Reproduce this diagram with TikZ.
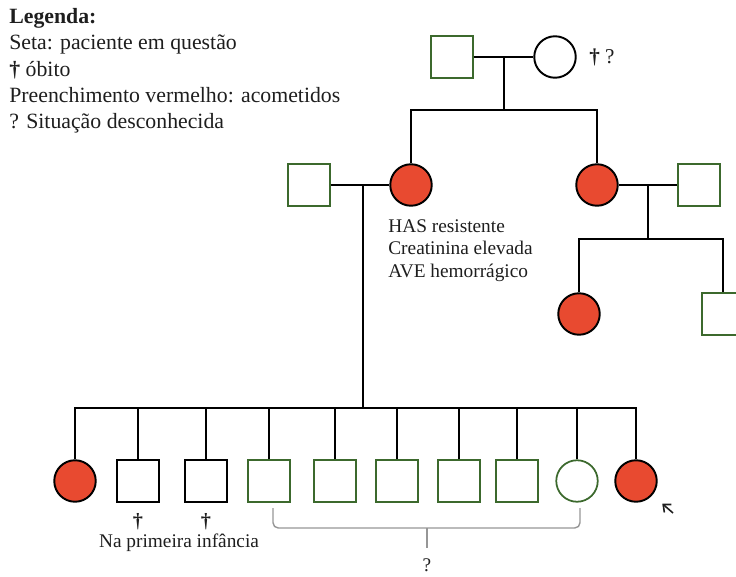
\documentclass[tikz,border=0pt]{standalone}
\usepackage{fontspec}
\setmainfont{Liberation Serif}
\usepackage{tikz}
\usetikzlibrary{arrows.meta,positioning}
\definecolor{pedgreen}{RGB}{60,105,45}
\definecolor{pedred}{RGB}{232,74,48}
\definecolor{pedgrey}{RGB}{150,150,150}
\definecolor{pedtext}{RGB}{30,30,30}

\begin{document}
\begin{tikzpicture}[x=0.02cm, y=-0.02cm]
    % Define styles
    \tikzset{
        ind/.style={inner sep=0pt, minimum size=0.83cm},
        male/.style={ind, rectangle, draw=pedgreen, line width=1pt},
        female/.style={ind, circle, draw=pedgreen, line width=1pt},
        malek/.style={ind, rectangle, draw=black, line width=1.1pt},
        femalek/.style={ind, circle, draw=black, line width=1.1pt},
        aff/.style={femalek, fill=pedred},
        line/.style={draw=black, line width=1.1pt},
        txt/.style={font=\fontsize{11}{13}\selectfont, text=pedtext, inner sep=0pt},
        legtxt/.style={font=\fontsize{12.4}{15}\selectfont, text=pedtext, align=left, inner sep=0pt},
        chave/.style={draw=pedgrey, line width=0.8pt, rounded corners=3pt},
        seta/.style={draw=pedtext, line width=0.9pt, -{Straight Barb[length=3.5pt,width=6pt]}, shorten >=0.26cm}
    }
    \useasboundingbox (0,0) rectangle (736,577);
    \clip (0,0) rectangle (736,577);

    % Legend
    \node[legtxt, anchor=north west] (legenda) at (9,8) {\textbf{Legenda:}\\Seta: paciente em questão\\\textbf{†} óbito\\Preenchimento vermelho: acometidos\\? Situação desconhecida};

    % Grandparents
    \node[male] (avo) at (452,57) {};
    \node[femalek] (ava) at (555,57) {};
    \node[txt, right=7pt of ava, font=\fontsize{12}{14}\selectfont] (avainfo) {\textbf{†} ?};
    \draw[line] (avo) -- (ava);
    \coordinate (uniao1) at (504,57);
    \coordinate (irmaos1) at (504,110);

    % Parents and aunt
    \node[male] (pai) at (309,185) {};
    \node[aff] (mae) at (411,185) {};
    \node[aff] (tia) at (597,185) {};
    \node[male] (tio) at (699,185) {};
    \draw[line] (uniao1) -- (irmaos1);
    \draw[line] (mae) |- (irmaos1) -| (tia);
    \draw[line] (pai) -- (mae);
    \draw[line] (tia) -- (tio);
    \node[txt, align=left, anchor=north west] (maeinfo) at (388,219) {HAS resistente\\Creatinina elevada\\AVE hemorrágico};

    % Cousins
    \coordinate (uniao3) at (648,185);
    \coordinate (irmaos3) at (648,239);
    \node[aff] (prima) at (579,314) {};
    \node[male] (primo) at (723,314) {};
    \draw[line] (uniao3) -- (irmaos3);
    \draw[line] (prima) |- (irmaos3) -| (primo);

    % Siblings
    \coordinate (uniao2) at (363,185);
    \coordinate (irmaos2) at (363,408);
    \foreach \x/\nome/\estilo in {75/f1/aff, 138/f2/malek, 206/f3/malek, 269/f4/male, 335/f5/male,
        397/f6/male, 459/f7/male, 517/f8/male, 577/f9/female, 636/f10/aff}
        \node[\estilo] (\nome) at (\x,481) {};
    \draw[line] (uniao2) -- (irmaos2);
    \draw[line] (f1) |- (irmaos2) -| (f10);
    \foreach \nome in {f2,f3,f4,f5,f6,f7,f8,f9}
        \draw[line] (\nome) |- (irmaos2);

    % Annotations
    \node[txt, font=\fontsize{11.5}{13}\bfseries] (obito2) at (138,522) {†};
    \node[txt, font=\fontsize{11.5}{13}\bfseries] (obito3) at (206,522) {†};
    \node[txt] (infancia) at (179,543) {Na primeira infância};
    \draw[chave] (273,508) |- (427,528) -| (580,508);
    \draw[chave] (427,528) -- (427,548);
    \node[txt] (desconhecido) at (427,565) {?};
    \coordinate (setaini) at (673,513);
    \draw[seta] (setaini) -- (f10);
\end{tikzpicture}
\end{document}
